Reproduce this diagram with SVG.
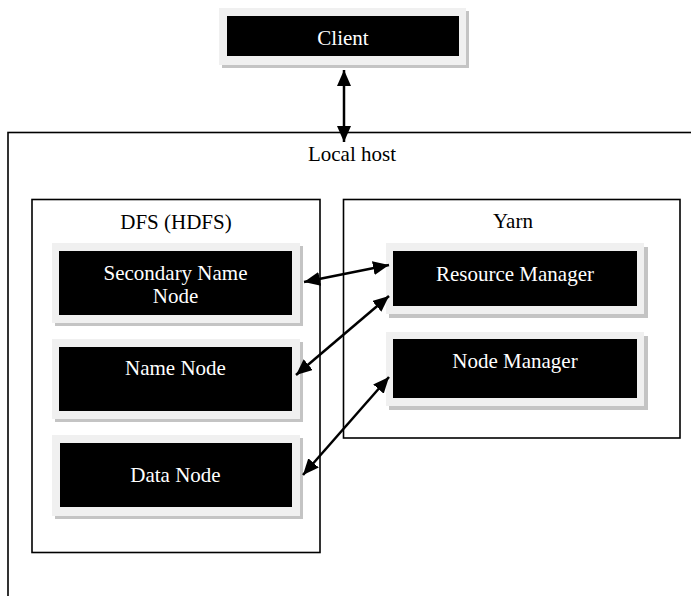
<svg xmlns="http://www.w3.org/2000/svg" width="691" height="596" viewBox="0 0 691 596">
<style>
.bg{fill:#ffffff}
.container{fill:none;stroke:#000;stroke-width:1.6}
.frame{fill:#f0f0f0}
.shadow{fill:#c4c4c4}
.core{fill:#000}
.lbl{font-family:"Liberation Serif","Times New Roman",serif;font-size:21px;text-anchor:middle}
.w{fill:#ffffff}
.k{fill:#000000}
.conn{stroke:#000;stroke-width:2.5;fill:none;marker-start:url(#ah);marker-end:url(#ah)}
</style>
<defs>
<marker id="ah" markerUnits="userSpaceOnUse" markerWidth="18" markerHeight="16" refX="16" refY="7" orient="auto-start-reverse">
<path d="M0,0 L16,7 L0,14 z" fill="#000"/>
</marker>
</defs>
<rect class="bg" x="0" y="0" width="691" height="596"/>

<g id="localhost">
<rect class="container" x="8" y="132.5" width="720" height="500"/>
<text class="lbl k" x="352" y="161">Local host</text>
</g>

<g id="dfs">
<rect class="container" x="32" y="199.5" width="288" height="353"/>
<text class="lbl k" x="176" y="229">DFS (HDFS)</text>
</g>

<g id="yarn">
<rect class="container" x="343.5" y="199.5" width="336.5" height="238.5"/>
<text class="lbl k" x="513" y="228">Yarn</text>
</g>

<g id="client">
<rect class="shadow" x="222" y="11" width="247" height="57"/>
<rect class="frame" x="219" y="8" width="247" height="57"/>
<rect class="core" x="227" y="16" width="232" height="40"/>
<text class="lbl w" x="343" y="45">Client</text>
</g>

<g id="secondary-name-node">
<rect class="shadow" x="55" y="246" width="248" height="80"/>
<rect class="frame" x="52" y="243" width="248" height="80"/>
<rect class="core" x="59" y="251" width="233" height="64"/>
<text class="lbl w" x="175.5" y="280">Secondary Name</text>
<text class="lbl w" x="175.5" y="303">Node</text>
</g>

<g id="name-node">
<rect class="shadow" x="55" y="342" width="248" height="80"/>
<rect class="frame" x="52" y="339" width="248" height="80"/>
<rect class="core" x="59" y="347" width="233" height="64"/>
<text class="lbl w" x="175.5" y="375">Name Node</text>
</g>

<g id="data-node">
<rect class="shadow" x="55" y="438" width="248" height="81"/>
<rect class="frame" x="52" y="435" width="248" height="81"/>
<rect class="core" x="60" y="443" width="232" height="64"/>
<text class="lbl w" x="175.5" y="482">Data Node</text>
</g>

<g id="resource-manager">
<rect class="shadow" x="389" y="247" width="259" height="71"/>
<rect class="frame" x="386" y="243" width="258" height="71"/>
<rect class="core" x="393" y="251" width="244" height="55"/>
<text class="lbl w" x="515" y="281">Resource Manager</text>
</g>

<g id="node-manager">
<rect class="shadow" x="389" y="336" width="259" height="74"/>
<rect class="frame" x="386" y="332" width="258" height="74"/>
<rect class="core" x="393" y="339" width="244" height="59"/>
<text class="lbl w" x="515" y="368">Node Manager</text>
</g>

<g id="connectors">
<line class="conn" x1="344" y1="70" x2="344" y2="142"/>
<line class="conn" x1="304" y1="282" x2="389" y2="265"/>
<line class="conn" x1="296" y1="375" x2="389" y2="296"/>
<line class="conn" x1="303" y1="475" x2="389" y2="377"/>
</g>
</svg>
